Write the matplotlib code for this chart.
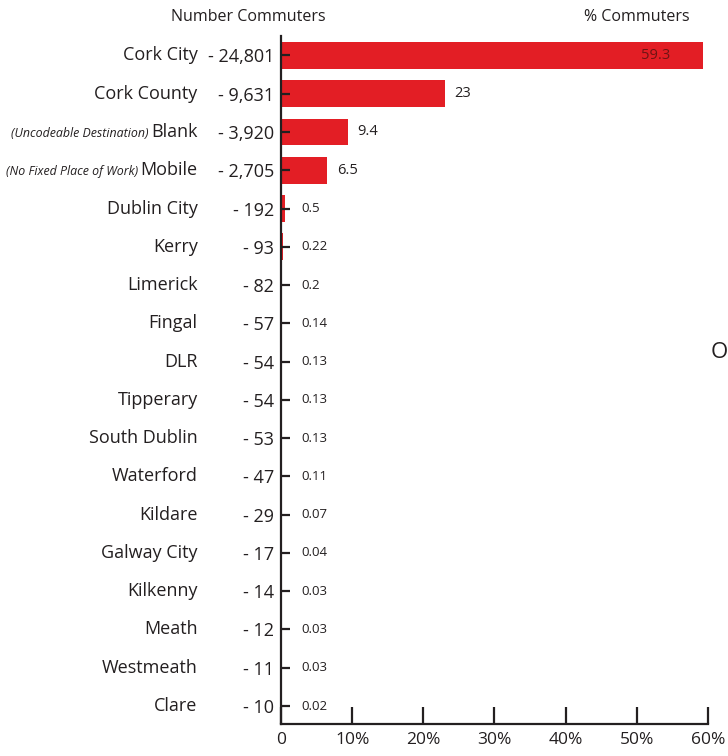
import matplotlib.pyplot as plt
from matplotlib.ticker import FixedLocator

plt.rcParams['font.family'] = ['Open Sans', 'DejaVu Sans']

places = ["Cork City", "Cork County", "Blank", "Mobile", "Dublin City", "Kerry",
          "Limerick", "Fingal", "DLR", "Tipperary", "South Dublin", "Waterford",
          "Kildare", "Galway City", "Kilkenny", "Meath", "Westmeath", "Clare"]
prefixes = {"Blank": "(Uncodeable Destination)", "Mobile": "(No Fixed Place of Work)"}
counts = [24801, 9631, 3920, 2705, 192, 93, 82, 57, 54, 54, 53, 47, 29, 17, 14, 12, 11, 10]
pct = [59.3, 23, 9.4, 6.5, 0.5, 0.22, 0.2, 0.14, 0.13, 0.13, 0.13, 0.11, 0.07,
       0.04, 0.03, 0.03, 0.03, 0.02]
pct_labels = ["59.3", "23", "9.4", "6.5", "0.5", "0.22", "0.2", "0.14", "0.13", "0.13",
              "0.13", "0.11", "0.07", "0.04", "0.03", "0.03", "0.03", "0.02"]
xticks = [0, 10, 20, 30, 40, 50, 60]
xtick_labels = ["0", "10%", "20%", "30%", "40%", "50%", "60%"]

red = "#e31e25"
ink = "#231f20"

fig = plt.figure(figsize=(7.28, 7.56), dpi=100)
ax = fig.add_axes([0.386, 0.0423, 0.5865, 0.9097])

y = list(range(len(places)))
ax.barh(y, pct, height=0.7, color=red)
ax.set_xlim(0, 60)
ax.set_ylim(len(places) - 0.53, -0.5)

for s in ["top", "right"]:
    ax.spines[s].set_visible(False)
for s in ["left", "bottom"]:
    ax.spines[s].set_linewidth(1.6)
    ax.spines[s].set_color(ink)

ax.xaxis.set_major_locator(FixedLocator(xticks))
ax.set_xticklabels(xtick_labels, fontsize=12.5, color=ink)
ax.tick_params(axis="x", direction="in", length=12, width=1.6, color=ink, pad=6)

ax.set_yticks(y)
ax.set_yticklabels(["- {:,}".format(c) for c in counts], fontsize=13, color=ink)
ax.tick_params(axis="y", direction="in", length=6.5, width=1.6, color=ink, pad=5)

for i, name in enumerate(places):
    t = ax.annotate(name, xy=(0, i), xycoords=("axes fraction", "data"),
                    xytext=(-60, 0), textcoords="offset points",
                    ha="right", va="center", fontsize=13, color=ink)
    if name in prefixes:
        ax.annotate(prefixes[name], xy=(0, 0.42), xycoords=t,
                    xytext=(-2, 0), textcoords="offset points",
                    ha="right", va="center", fontsize=8.9, style="italic", color=ink)

    if i == 0:
        ax.annotate(pct_labels[i], xy=(pct[i], i), xytext=(-34, 0),
                    textcoords="offset points", ha="center", va="center",
                    fontsize=10.5, color="#6e1414")
    else:
        ax.annotate(pct_labels[i], xy=(max(pct[i], 1.5), i), xytext=(7, 0),
                    textcoords="offset points", ha="left", va="center",
                    fontsize=10.5 if i < 4 else 9.5, color=ink)

fig.text(248 / 728, 1 - 17 / 756, "Number Commuters", ha="center", va="center",
         fontsize=11.5, color=ink)
fig.text(637 / 728, 1 - 17 / 756, "% Commuters", ha="center", va="center",
         fontsize=11.5, color=ink)
fig.text(711 / 728, 1 - 352 / 756, "O", ha="left", va="center", fontsize=16, color=ink)

fig.savefig("out.png", dpi=100)
